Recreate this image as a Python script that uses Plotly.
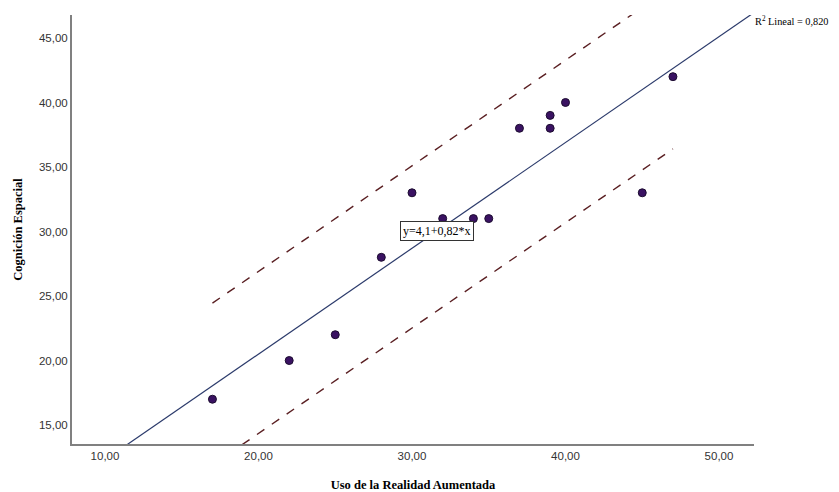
import plotly.graph_objects as go

# Data
uso = [17, 22, 25, 28, 30, 32, 34, 35, 37, 39, 39, 40, 45, 47]
cognicion = [17, 20, 22, 28, 33, 31, 31, 31, 38, 39, 38, 40, 33, 42]

# Fit line (y = 4.1 + 0.82 x) drawn across the axis range
fit_x = [7.85, 52.5]
fit_y = [4.1 + 0.82 * v for v in fit_x]

# Prediction-interval lines (dashed)
pi_x = [17, 47]
pi_upper = [24.45, 49.0]
pi_lower = [11.9, 36.4]

x_ticks = [10, 20, 30, 40, 50]
y_ticks = [15, 20, 25, 30, 35, 40, 45]

fig = go.Figure()
fig.add_trace(go.Scatter(x=fit_x, y=fit_y, mode="lines",
                         line=dict(color="#2b3a6b", width=1.2), hoverinfo="skip"))
fig.add_trace(go.Scatter(x=pi_x, y=pi_upper, mode="lines",
                         line=dict(color="#5a1f22", width=1.4, dash="dash"), hoverinfo="skip"))
fig.add_trace(go.Scatter(x=pi_x, y=pi_lower, mode="lines",
                         line=dict(color="#5a1f22", width=1.4, dash="dash"), hoverinfo="skip"))
fig.add_trace(go.Scatter(x=uso, y=cognicion, mode="markers",
                         marker=dict(symbol="circle", size=8, color="#3a1262",
                                     line=dict(color="#1c0c30", width=1))))

fig.add_annotation(x=31.6, y=30.05, xref="x", yref="y", text="y=4,1+0,82*x",
                   showarrow=False, font=dict(family="Liberation Serif", size=12, color="#000"),
                   bgcolor="white", bordercolor="#333", borderwidth=1, borderpad=2)
fig.add_annotation(x=0.999, y=0.986, xref="paper", yref="paper", xanchor="left", yanchor="middle",
                   text="R<sup>2</sup> Lineal = 0,820", showarrow=False,
                   font=dict(family="Liberation Serif", size=10.3, color="#000"))

axis_common = dict(showgrid=False, zeroline=False, showline=True, linecolor="#808080",
                   linewidth=2, ticks="", tickformat=".2f", automargin=False,
                   tickfont=dict(family="Liberation Sans", size=11.5, color="#333"))

# page has an 8px body margin, so the figure is sized 8px smaller
fig.update_layout(
    width=831, height=484,
    margin=dict(l=64, r=85, t=7, b=48),
    plot_bgcolor="white", paper_bgcolor="white",
    showlegend=False,
    separators=",.",
    xaxis=dict(range=[7.85, 52.28], tickvals=x_ticks,
               title=dict(text="<b>Uso de la Realidad Aumentada</b>", standoff=19,
                          font=dict(family="Liberation Serif", size=12.5, color="#000")),
               **axis_common),
    yaxis=dict(range=[13.53, 46.78], tickvals=y_ticks,
               title=dict(text="<b>Cognición Espacial</b>", standoff=14,
                          font=dict(family="Liberation Serif", size=12.5, color="#000")),
               **axis_common),
)

fig.write_html("out.html")
